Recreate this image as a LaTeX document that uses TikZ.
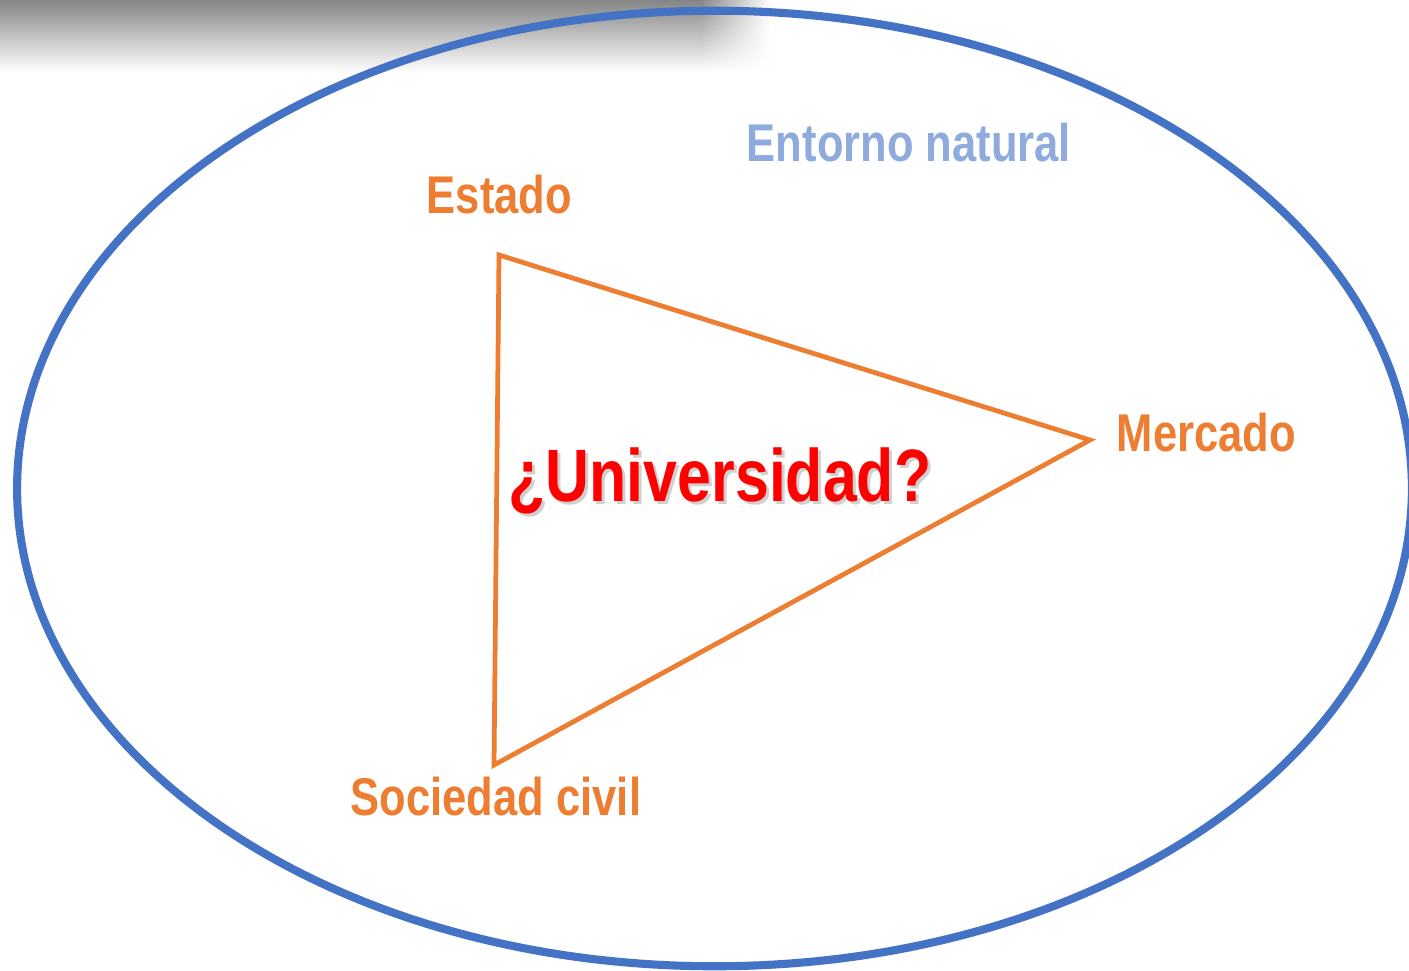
\documentclass[tikz,border=0pt]{standalone}
\usepackage{fontspec}
\newfontfamily\lblfont{Liberation Sans}[FakeStretch=0.82]
\usetikzlibrary{fadings}
\definecolor{vertorange}{HTML}{ED7D31}
\definecolor{ringblue}{HTML}{4472C4}
\definecolor{envblue}{HTML}{8FAADC}
\tikzfading[name=fadeeast, left color=transparent!0, right color=transparent!100]
\tikzset{
  vertex/.style={anchor=base,text=vertorange,font=\lblfont\bfseries\fontsize{15.1}{18}\selectfont},
  envlabel/.style={anchor=base,text=envblue,font=\lblfont\bfseries\fontsize{15.1}{18}\selectfont},
  centrelabel/.style={anchor=base,font=\lblfont\bfseries\fontsize{21.1}{24}\selectfont}
}
\begin{document}
\begin{tikzpicture}[x=0.01cm,y=-0.01cm,line join=miter]
  \useasboundingbox (0,0) rectangle (1409,971);
  \clip (0,0) rectangle (1409,971);
  \fill[white] (0,0) rectangle (1409,971);
  % shadow band at the top
  \shade[top color=black!48, bottom color=white] (0,0) rectangle (700,72);
  \shade[top color=black!48, bottom color=white, path fading=fadeeast] (700,0) rectangle (770,72);
  % surrounding environment
  \draw[ringblue, line width=2.3pt] (714.5,488.5) ellipse [x radius=6.97cm, y radius=4.775cm];
  \node[envlabel] (entorno) at (909,162) {Entorno natural};
  % triangle
  \coordinate (est) at (499,255);
  \coordinate (mer) at (1090,440);
  \coordinate (soc) at (494,765);
  \draw[vertorange, line width=1.35pt] (est) -- (mer) -- (soc) -- cycle;
  \node[vertex] (estado) at (499.5,214) {Estado};
  \node[vertex] (mercado) at (1206.5,452) {Mercado};
  \node[vertex] (sociedad) at (496,816) {Sociedad civil};
  \node[centrelabel, text=black!30, opacity=0.6] (unisombra) at (723,505) {¿Universidad?};
  \node[centrelabel, text=red] (uni) at (720,502) {¿Universidad?};
\end{tikzpicture}
\end{document}
